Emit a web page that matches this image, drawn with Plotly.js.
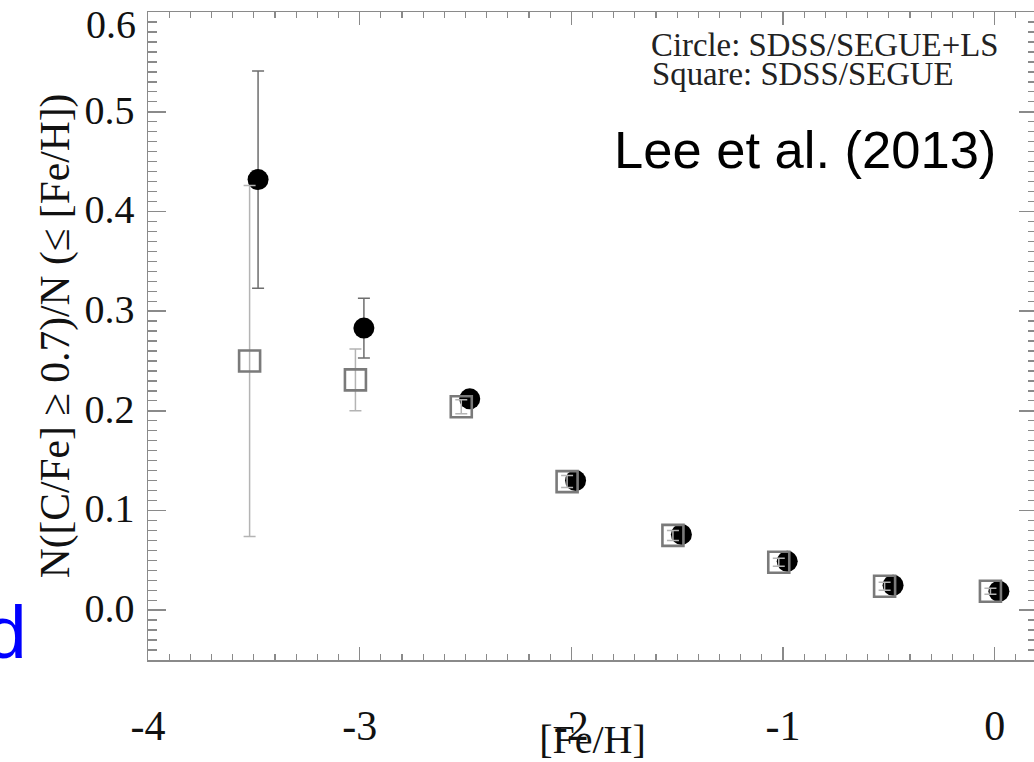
<!DOCTYPE html>
<html>
<head>
<meta charset="utf-8">
<script src="https://cdn.plot.ly/plotly-3.0.1.min.js"></script>
<style>
html,body{margin:0;padding:0;overflow:hidden;background:#fff;}
#chart{width:1040px;height:762px;}
</style>
</head>
<body>
<div id="chart"></div>
<script>
// Circle: SDSS/SEGUE+LS
const circleFeH = [-3.48, -2.98, -2.48, -1.98, -1.48, -0.98, -0.48, 0.02];
const circleFrac = [0.432, 0.283, 0.212, 0.130, 0.076, 0.049, 0.025, 0.019];
const circleErr = [0.109, 0.030, 0.005, 0.004, 0.003, 0.003, 0.002, 0.002];
// Square: SDSS/SEGUE
const squareFeH = [-3.52, -3.02, -2.52, -2.02, -1.52, -1.02, -0.52, -0.02];
const squareFrac = [0.250, 0.231, 0.204, 0.129, 0.075, 0.048, 0.024, 0.019];
const squareErr = [0.176, 0.031, 0.007, 0.006, 0.005, 0.004, 0.004, 0.003];
// Tick labels
const xTickVals = [-4, -3, -2, -1, 0];
const xTickText = ['-4', '-3', '-2', '-1', '0'];
const yTickVals = [0.0, 0.1, 0.2, 0.3, 0.4, 0.5, 0.6];
const yTickText = ['0.0', '0.1', '0.2', '0.3', '0.4', '0.5', '0.6'];

const W = 1040, H = 762;
const M = {l: 147.5, r: 3.4, t: 12.3, b: 102};
const pw = W - M.l - M.r, ph = H - M.t - M.b;
const px = x => (x - M.l) / pw;
const py = y => (H - M.b - y) / ph;

const serif = 'Liberation Serif, Times New Roman, serif';
const sans = 'Liberation Sans, Arial, sans-serif';
const axisCol = '#8a8a8a';

// the top label (0.6) sits at the frame edge; it is drawn just below its tick, as in the original
const lastY = yTickVals.length - 1;
const yAxisText = yTickText.map((t, i) => i === lastY ? '' : t);

const traces = [
  {
    x: circleFeH, y: circleFrac, type: 'scatter', mode: 'markers',
    marker: {symbol: 'circle', size: 21, color: '#000'},
    error_y: {type: 'data', array: circleErr, visible: true, color: '#6e6e6e', thickness: 1.5, width: 6},
    cliponaxis: false, showlegend: false
  },
  {
    x: squareFeH, y: squareFrac, type: 'scatter', mode: 'markers',
    marker: {symbol: 'square-open', size: 21, color: '#7a7a7a', line: {color: '#7a7a7a', width: 2.6}},
    error_y: {type: 'data', array: squareErr, visible: true, color: '#b4b4b4', thickness: 1.5, width: 6},
    cliponaxis: false, showlegend: false
  }
];

const layout = {
  width: W, height: H,
  margin: M,
  paper_bgcolor: '#fff', plot_bgcolor: '#fff',
  font: {family: serif, color: '#111'},
  xaxis: {
    range: [-4, 0.2],
    tickmode: 'array', tickvals: xTickVals, ticktext: xTickText,
    ticks: 'inside', ticklen: 13, tickwidth: 1.5, tickcolor: axisCol,
    minor: {dtick: 0.1, tick0: 0, ticks: 'inside', ticklen: 6, tickwidth: 1.3, tickcolor: axisCol},
    showline: true, linecolor: axisCol, linewidth: 1.5, mirror: 'allticks',
    showgrid: false, zeroline: false,
    tickfont: {family: serif, size: 42, color: '#111'},
    ticklabelstandoff: 28,
    title: {text: '[Fe/H]', font: {family: serif, size: 40, color: '#111'}, standoff: 0},
    automargin: false
  },
  yaxis: {
    range: [-0.05, 0.6001],
    tickmode: 'array', tickvals: yTickVals, ticktext: yAxisText,
    ticks: 'inside', ticklen: 18, tickwidth: 1.5, tickcolor: axisCol,
    minor: {dtick: 0.01, tick0: 0, ticks: 'inside', ticklen: 9, tickwidth: 1.3, tickcolor: axisCol},
    showline: true, linecolor: axisCol, linewidth: 1.5, mirror: 'allticks',
    showgrid: false, zeroline: false,
    tickfont: {family: serif, size: 40, color: '#111'},
    ticklabelstandoff: 4, ticklabelshift: -2,
    title: {text: 'N([C/Fe] ≥ 0.7)/N (≤ [Fe/H])', font: {family: serif, size: 41.5, color: '#111'}, standoff: 2},
    automargin: false
  },
  annotations: [
    {xref: 'paper', yref: 'y', x: px(137), y: yTickVals[lastY], yshift: -12, xanchor: 'right', yanchor: 'middle',
     text: yTickText[lastY], showarrow: false, font: {family: serif, size: 40, color: '#111'}},
    {xref: 'paper', yref: 'paper', x: px(649), y: py(45), xanchor: 'left', yanchor: 'middle',
     text: 'Circle: SDSS/SEGUE+LS', showarrow: false, font: {family: serif, size: 32.8, color: '#222'}},
    {xref: 'paper', yref: 'paper', x: px(650), y: py(74), xanchor: 'left', yanchor: 'middle',
     text: 'Square: SDSS/SEGUE', showarrow: false, font: {family: serif, size: 32.8, color: '#222'}},
    {xref: 'paper', yref: 'paper', x: px(612), y: py(150), xanchor: 'left', yanchor: 'middle',
     text: 'Lee et al. (2013)', showarrow: false, font: {family: sans, size: 52.5, color: '#000'}},
    {xref: 'paper', yref: 'paper', x: px(28), y: py(632), xanchor: 'right', yanchor: 'middle',
     text: 'd', showarrow: false, font: {family: sans, size: 75, color: '#0000ff'}}
  ]
};

Plotly.newPlot('chart', traces, layout, {displayModeBar: false, staticPlot: true});
</script>
</body>
</html>
